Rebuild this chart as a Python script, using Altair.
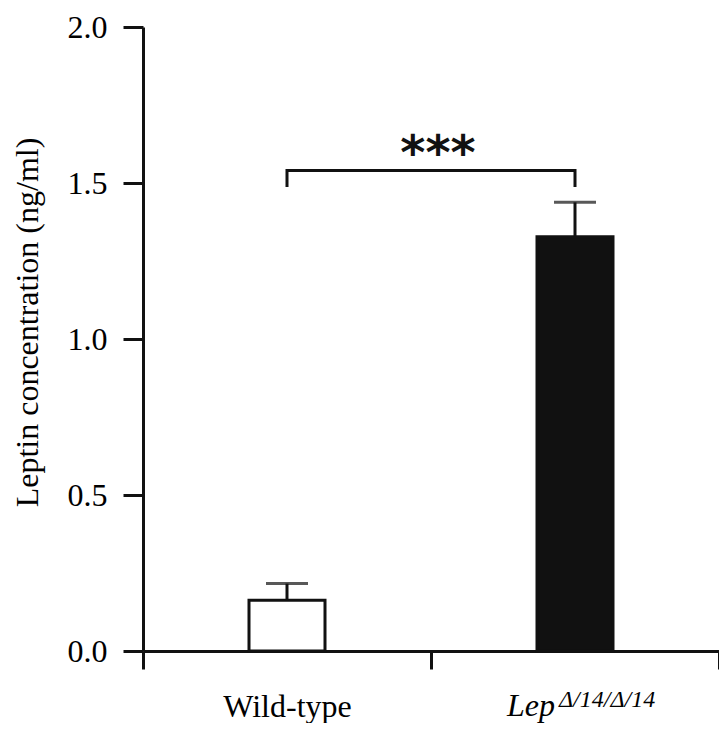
import altair as alt
import pandas as pd

# ---- data ----
groups = ["Wild-type", "Lep"]
means = [0.163, 1.328]
upper = [0.216, 1.438]
fills = ["#ffffff", "#111111"]

bracket_groups = ["Wild-type", "Wild-type", "Lep", "Lep"]
bracket_vals = [1.487, 1.54, 1.54, 1.487]
bracket_order = [0, 1, 2, 3]

star_group = ["Wild-type"]
star_text = ["***"]
star_y = [1.545]

lep_main = ["Lep"]
lep_sup = ["\u0394/14/\u0394/14"]

df = pd.DataFrame({"group": groups, "mean": means, "upper": upper, "fill": fills})
br = pd.DataFrame({"group": bracket_groups, "y": bracket_vals, "o": bracket_order})
stars = pd.DataFrame({"group": star_group, "label": star_text, "y": star_y})
lep = pd.DataFrame({"group": ["Lep"], "main": lep_main, "sup": lep_sup})

INK = "#111111"
SERIF = "Liberation Serif"
YTITLE = "Leptin concentration (ng/ml)"

xscale = alt.Scale(domain=groups, paddingInner=0, paddingOuter=0)
yscale = alt.Scale(domain=[0, 2], nice=False)

x_axis = alt.Axis(
    title=None, tickBand="extent", labelAngle=0,
    domainColor=INK, domainWidth=3, tickColor=INK, tickWidth=3, tickSize=18,
    labelFont=SERIF, labelFontSize=32, labelColor="#000000",
    labelBaseline="alphabetic", labelPadding=47,
    labelExpr="datum.value == 'Wild-type' ? datum.value : ''",
)
y_axis = alt.Axis(
    values=[0, 0.5, 1.0, 1.5, 2.0], format=".1f",
    grid=False, domainColor=INK, domainWidth=3, tickColor=INK, tickWidth=3, tickSize=20,
    labelFont=SERIF, labelFontSize=32, labelColor="#000000", labelPadding=16,
    titleFont=SERIF, titleFontSize=32, titleFontWeight="normal", titleColor="#000000",
    titleX=-106, titleY=295, titleAngle=-90, titleAlign="center", titleBaseline="alphabetic",
)

X = alt.X("group:N", sort=groups, scale=xscale, axis=x_axis)


def Y(field):
    return alt.Y(field, scale=yscale, axis=y_axis, title=YTITLE)


bars = alt.Chart(df).mark_bar(size=76, stroke=INK, strokeWidth=3).encode(
    x=X,
    y=Y("mean:Q"),
    color=alt.Color("fill:N", scale=None),
)

err = alt.Chart(df).mark_rule(strokeWidth=3, color=INK).encode(
    x=X, y=Y("mean:Q"), y2="upper:Q"
)

caps = alt.Chart(df).mark_tick(size=42, thickness=3, color=INK).encode(
    x=X, y=Y("upper:Q")
)

bracket = alt.Chart(br).mark_line(strokeWidth=3, color=INK, strokeCap="butt", strokeJoin="miter").encode(
    x=X, y=Y("y:Q"), order="o:Q"
)

star_txt = alt.Chart(stars).mark_text(
    font="DejaVu Sans", fontWeight="bold", fontSize=48, color=INK,
    align="center", baseline="alphabetic", dx=151,
).encode(x=X, y=Y("y:Q"), text="label:N")

lep_txt = alt.Chart(lep).mark_text(
    font=SERIF, fontStyle="italic", fontSize=32, color="#000000",
    align="right", baseline="alphabetic", dx=-20,
).encode(x=X, y=alt.value(689), text="main:N")

lep_sup_txt = alt.Chart(lep).mark_text(
    font=SERIF, fontStyle="italic", fontSize=24, color="#000000",
    align="left", baseline="alphabetic", dx=-16,
).encode(x=X, y=alt.value(680), text="sup:N")

chart = alt.layer(bars, err, caps, bracket, star_txt, lep_txt, lep_sup_txt).properties(
    width=576, height=624,
    autosize=alt.AutoSizeParams(type="none"),
    padding={"left": 135, "top": 19, "right": 0, "bottom": 72},
).configure(background="#ffffff").configure_view(stroke=None)

chart.save("out.html", embed_options={"renderer": "svg", "actions": False})
